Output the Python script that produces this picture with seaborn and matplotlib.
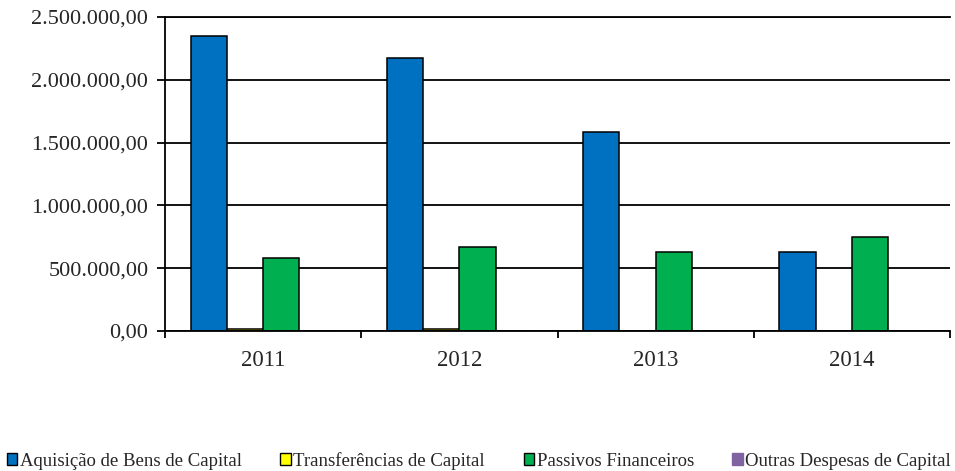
import pandas as pd
import numpy as np
import matplotlib
matplotlib.use("Agg")
import matplotlib.pyplot as plt
from matplotlib.patches import Patch
from matplotlib.ticker import FuncFormatter, FixedLocator
import seaborn as sns

years = ["2011", "2012", "2013", "2014"]
series = ["Aquisição de Bens de Capital", "Transferências de Capital",
          "Passivos Financeiros", "Outras Despesas de Capital"]
aquisicao = [2351000, 2176000, 1586000, 630000]
transferencias = [15000, 12000, 0, 0]
passivos = [583000, 666000, 631000, 746000]
outras = [0, 0, 0, 0]
colors = ["#0070C0", "#FFFF00", "#00B050", "#8064A2"]

rows = []
for name, vals in zip(series, [aquisicao, transferencias, passivos, outras]):
    for y, v in zip(years, vals):
        rows.append({"ano": y, "tipo": name, "valor": v})
df = pd.DataFrame(rows)


def br_fmt(x, pos):
    s = f"{x:,.2f}"
    return s.replace(",", "X").replace(".", ",").replace("X", ".")


sns.set_style("white")
plt.rcParams["font.family"] = ["Liberation Serif", "DejaVu Serif"]

fig = plt.figure(figsize=(9.55, 4.71), dpi=100)
ax = fig.add_axes([165 / 955, 1 - 331 / 471, (950 - 165) / 955, (331 - 17) / 471])

sns.barplot(data=df, x="ano", y="valor", hue="tipo", hue_order=series,
            palette=colors, width=0.74, edgecolor="black", linewidth=1.1,
            saturation=1, legend=False, ax=ax)

ax.set_ylim(0, 2500000)
ax.set_xlim(-0.5, 3.5)
ax.set_yticks(np.arange(0, 2500001, 500000))
ax.yaxis.set_major_formatter(FuncFormatter(br_fmt))
ax.yaxis.grid(True, color="black", linewidth=1.3)
ax.set_axisbelow(True)
ax.set_xlabel("")
ax.set_ylabel("")

for side in ["left", "bottom", "top"]:
    ax.spines[side].set_visible(True)
    ax.spines[side].set_color("black")
    ax.spines[side].set_linewidth(1.3)
ax.spines["right"].set_visible(False)

ax.tick_params(axis="y", which="major", direction="out", length=6, width=1.3,
               color="black", pad=6, labelsize=16, left=True)
ax.tick_params(axis="x", which="major", length=0, pad=14, labelsize=16.5)
ax.xaxis.set_minor_locator(FixedLocator([-0.5, 0.5, 1.5, 2.5, 3.5]))
ax.tick_params(axis="x", which="minor", direction="out", length=5, width=1.3,
               color="black", bottom=True)

handles = [Patch(facecolor=c, edgecolor="black" if i < 3 else c, linewidth=1)
           for i, c in enumerate(colors)]
fig.legend(handles, series, loc="center", bbox_to_anchor=(0.5016, 0.021),
           ncol=4, frameon=False, fontsize=13.5, handlelength=0.55,
           handleheight=0.6, handletextpad=0.15, columnspacing=2.05,
           borderaxespad=0, borderpad=0)

fig.savefig("out.png", dpi=100)
